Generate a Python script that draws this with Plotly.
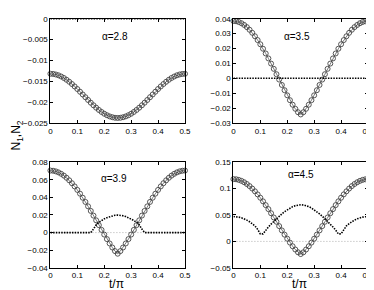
import plotly.graph_objects as go
from plotly.subplots import make_subplots

t = [round(0.01 * i, 2) for i in range(51)]

# alpha = 2.8
n1_a = [-0.01320, -0.01324, -0.01337, -0.01357, -0.01386, -0.01421, -0.01464, -0.01512, -0.01566, -0.01624,
        -0.01686, -0.01751, -0.01817, -0.01883, -0.01949, -0.02014, -0.02076, -0.02134, -0.02188, -0.02236,
        -0.02279, -0.02314, -0.02343, -0.02363, -0.02376, -0.02380, -0.02376, -0.02363, -0.02343, -0.02314,
        -0.02279, -0.02236, -0.02188, -0.02134, -0.02076, -0.02014, -0.01949, -0.01883, -0.01817, -0.01751,
        -0.01686, -0.01624, -0.01566, -0.01512, -0.01464, -0.01421, -0.01386, -0.01357, -0.01337, -0.01324,
        -0.01320]
n2_a = [0.0] * 51

# alpha = 3.5
n1_b = [0.03850, 0.03833, 0.03783, 0.03700, 0.03585, 0.03439, 0.03262, 0.03057, 0.02825, 0.02567,
        0.02287, 0.01987, 0.01668, 0.01335, 0.00989, 0.00635, 0.00275, -0.00087, -0.00447, -0.00801,
        -0.01143, -0.01470, -0.01775, -0.02049, -0.02280, -0.02430, -0.02280, -0.02049, -0.01775, -0.01470,
        -0.01143, -0.00801, -0.00447, -0.00087, 0.00275, 0.00635, 0.00989, 0.01335, 0.01668, 0.01987,
        0.02287, 0.02567, 0.02825, 0.03057, 0.03262, 0.03439, 0.03585, 0.03700, 0.03783, 0.03833,
        0.03850]
n2_b = [0.0] * 51

# alpha = 3.9
n1_c = [0.07050, 0.07027, 0.06957, 0.06841, 0.06680, 0.06475, 0.06228, 0.05940, 0.05612, 0.05248,
        0.04851, 0.04422, 0.03965, 0.03484, 0.02982, 0.02464, 0.01932, 0.01393, 0.00850, 0.00310,
        -0.00223, -0.00740, -0.01235, -0.01695, -0.02103, -0.02400, -0.02103, -0.01695, -0.01235, -0.00740,
        -0.00223, 0.00310, 0.00850, 0.01393, 0.01932, 0.02464, 0.02982, 0.03484, 0.03965, 0.04422,
        0.04851, 0.05248, 0.05612, 0.05940, 0.06228, 0.06475, 0.06680, 0.06841, 0.06957, 0.07027,
        0.07050]
n2_c = [0.0, 0.0, 0.0, 0.0, 0.0, 0.0, 0.0, 0.0, 0.0, 0.0,
        0.0, 0.0, 0.0, 0.0, 0.0, 0.0, 0.0040, 0.0088, 0.0116, 0.0138,
        0.0156, 0.0170, 0.0182, 0.0191, 0.0197, 0.0199, 0.0197, 0.0191, 0.0182, 0.0170,
        0.0156, 0.0138, 0.0116, 0.0088, 0.0040, 0.0, 0.0, 0.0, 0.0, 0.0,
        0.0, 0.0, 0.0, 0.0, 0.0, 0.0, 0.0, 0.0, 0.0, 0.0,
        0.0]

# alpha = 4.5
n1_d = [0.11800, 0.11762, 0.11649, 0.11462, 0.11201, 0.10870, 0.10471, 0.10007, 0.09482, 0.08900,
        0.08267, 0.07587, 0.06867, 0.06113, 0.05331, 0.04530, 0.03716, 0.02898, 0.02084, 0.01284,
        0.00509, -0.00230, -0.00919, -0.01540, -0.02062, -0.02400, -0.02062, -0.01540, -0.00919, -0.00230,
        0.00509, 0.01284, 0.02084, 0.02898, 0.03716, 0.04530, 0.05331, 0.06113, 0.06867, 0.07587,
        0.08267, 0.08900, 0.09482, 0.10007, 0.10471, 0.10870, 0.11201, 0.11462, 0.11649, 0.11762,
        0.11800]
n2_d = [0.0470, 0.0467, 0.0459, 0.0446, 0.0427, 0.0403, 0.0373, 0.0337, 0.0294, 0.0228,
        0.0142, 0.0142, 0.0214, 0.0272, 0.0328, 0.0381, 0.0431, 0.0478, 0.0521, 0.0563,
        0.0600, 0.0632, 0.0658, 0.0677, 0.0690, 0.0694, 0.0690, 0.0677, 0.0658, 0.0632,
        0.0600, 0.0563, 0.0521, 0.0478, 0.0431, 0.0381, 0.0328, 0.0272, 0.0214, 0.0142,
        0.0142, 0.0228, 0.0294, 0.0337, 0.0373, 0.0403, 0.0427, 0.0446, 0.0459, 0.0467,
        0.0470]

labels = ["α=2.8", "α=3.5", "α=3.9", "α=4.5"]
x_ticks = [0, 0.1, 0.2, 0.3, 0.4, 0.5]
y_ranges = [[-0.025, 0], [-0.03, 0.04], [-0.04, 0.08], [-0.05, 0.15]]
y_dticks = [0.005, 0.01, 0.02, 0.05]
label_pos = [(0.239, -0.0042), (0.235, 0.0283), (0.235, 0.0613), (0.25, 0.126)]
zero_line = [False, False, True, True]

panels = [(n1_a, n2_a), (n1_b, n2_b), (n1_c, n2_c), (n1_d, n2_d)]
cells = [(1, 1), (1, 2), (2, 1), (2, 2)]

FONT = "Liberation Sans, Arial, Helvetica, sans-serif"

fig = make_subplots(rows=2, cols=2)

for i, ((n1, n2), (r, c)) in enumerate(zip(panels, cells)):
    if zero_line[i]:
        fig.add_trace(go.Scatter(x=t, y=[0.0] * len(t), mode="lines",
                                 line=dict(color="#b0b0b0", width=1, dash="1px,2px"),
                                 hoverinfo="skip", showlegend=False), row=r, col=c)
    fig.add_trace(go.Scatter(x=t, y=n1, mode="lines+markers",
                             line=dict(color="#555555", width=0.8),
                             marker=dict(symbol="circle-open", size=5, color="#444444",
                                         line=dict(width=0.9, color="#444444")),
                             cliponaxis=False, showlegend=False), row=r, col=c)
    fig.add_trace(go.Scatter(x=t, y=n2, mode="lines",
                             line=dict(color="black", width=1.6, dash="1.5px,1.2px"),
                             cliponaxis=False, showlegend=False), row=r, col=c)

doms_x = {1: [0.1104, 0.4781], 2: [0.6104, 0.9781]}
doms_y = {1: [0.6052, 0.9759], 2: [0.0897, 0.4655]}

for i, (r, c) in enumerate(cells):
    k = i + 1
    xa = "xaxis" if k == 1 else f"xaxis{k}"
    ya = "yaxis" if k == 1 else f"yaxis{k}"
    fig.layout[xa].update(domain=doms_x[c], range=[0, 0.5], tickvals=x_ticks,
                          ticktext=[("%g" % v) for v in x_ticks],
                          ticks="inside", ticklen=3, tickwidth=0.8, tickcolor="black",
                          showline=True, linecolor="black", linewidth=1, mirror="allticks",
                          showgrid=False, zeroline=False,
                          tickfont=dict(family=FONT, size=8, color="black"))
    fig.layout[ya].update(domain=doms_y[r], range=y_ranges[i], tick0=0, dtick=y_dticks[i],
                          ticks="inside", ticklen=3, tickwidth=0.8, tickcolor="black",
                          showline=True, linecolor="black", linewidth=1, mirror="allticks",
                          showgrid=False, zeroline=False,
                          tickfont=dict(family=FONT, size=8, color="black"))
    xr = "x" if k == 1 else f"x{k}"
    yr = "y" if k == 1 else f"y{k}"
    fig.add_annotation(x=label_pos[i][0], y=label_pos[i][1], xref=xr, yref=yr,
                       text=labels[i], showarrow=False, xanchor="center", yanchor="middle",
                       font=dict(family=FONT, size=10, color="black"))

# axis titles
for xp in (0.2914, 0.7914):
    fig.add_annotation(x=xp, y=0.031, xref="paper", yref="paper", text="t/π", showarrow=False,
                       xanchor="center", yanchor="middle",
                       font=dict(family=FONT, size=12, color="black"))
fig.add_annotation(x=0.0187, y=0.56, xref="paper", yref="paper",
                   text="N<sub>1</sub>,N<sub>2</sub>", showarrow=False, textangle=-90,
                   xanchor="center", yanchor="middle",
                   font=dict(family=FONT, size=12, color="black"))

fig.update_layout(width=374, height=290, autosize=False,
                  margin=dict(l=0, r=0, t=0, b=0),
                  paper_bgcolor="white", plot_bgcolor="white", showlegend=False)

fig.write_html("out.html")
